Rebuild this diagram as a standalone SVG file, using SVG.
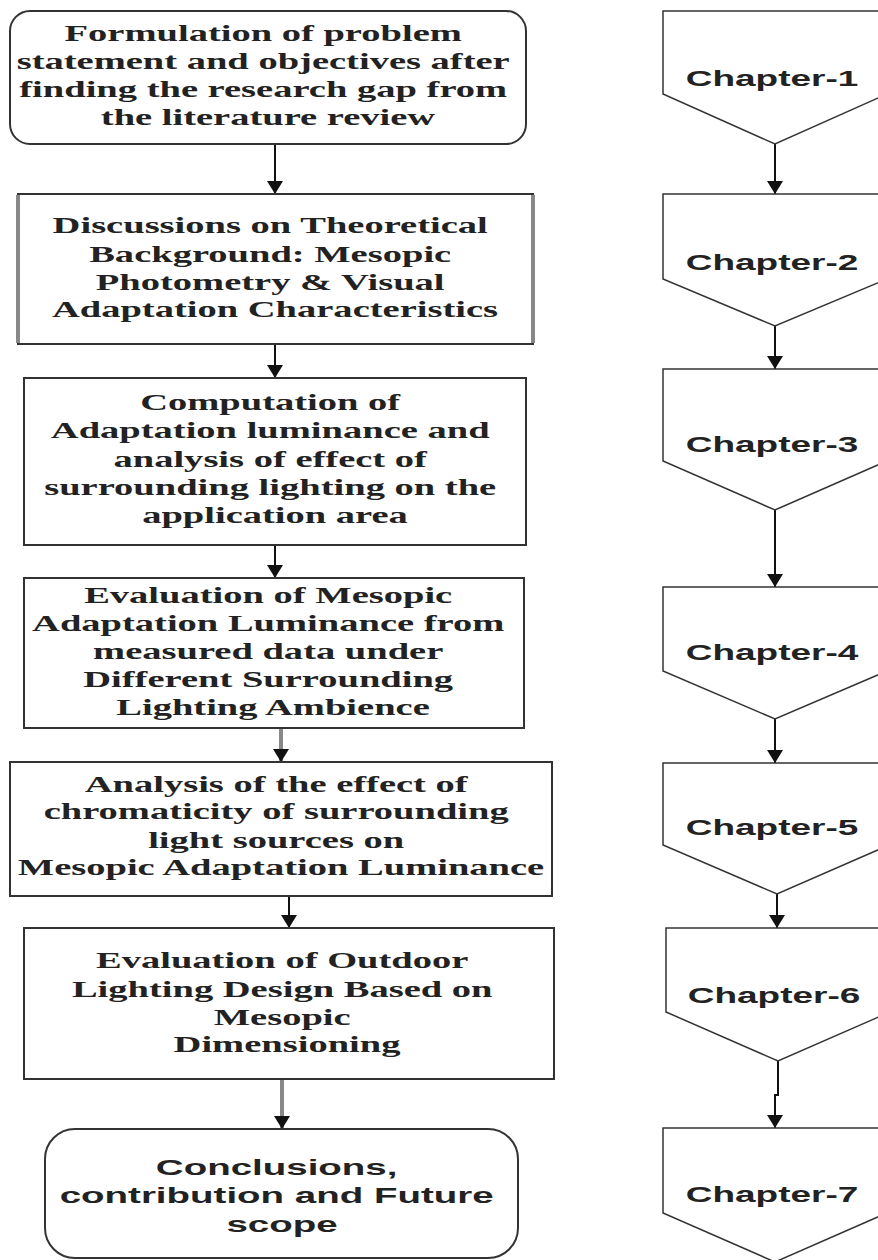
<svg xmlns="http://www.w3.org/2000/svg" width="878" height="1260" viewBox="0 0 878 1260">
  <defs>
    <marker id="arrow" viewBox="0 0 13 16" refX="13" refY="8" markerWidth="13" markerHeight="16" markerUnits="userSpaceOnUse" orient="auto">
      <path d="M0,0 L13,8 L0,16 Z" fill="#111"/>
    </marker>
    <style>
      .box { fill: #fff; stroke: #333; stroke-width: 2; }
      .side { stroke: #888; stroke-width: 4; fill: none; }
      .serif { font-family: "Liberation Serif", "Times New Roman", serif; font-weight: bold; font-size: 23px; fill: #222; text-anchor: middle; }
      .sans { font-family: "Liberation Sans", Arial, sans-serif; font-weight: bold; font-size: 22px; fill: #222; text-anchor: middle; }
      .chap { font-family: "Liberation Sans", Arial, sans-serif; font-weight: bold; font-size: 22px; fill: #222; text-anchor: middle; }
      .link { stroke: #111; stroke-width: 2; fill: none; }
      .link-grey { stroke: #888; stroke-width: 4; fill: none; }
      .page { fill: #fff; stroke: #333; stroke-width: 1.5; }
    </style>
  </defs>

  <rect width="878" height="1260" fill="#fff"/>

  <!-- Connectors -->
  <g id="connectors">
    <line class="link" x1="275" y1="144" x2="275" y2="194" marker-end="url(#arrow)"/>
    <line class="link" x1="275" y1="344" x2="275" y2="378" marker-end="url(#arrow)"/>
    <line class="link" x1="275" y1="545" x2="275" y2="578" marker-end="url(#arrow)"/>
    <line class="link-grey" x1="281" y1="728" x2="281" y2="762" marker-end="url(#arrow)"/>
    <line class="link" x1="289" y1="896" x2="289" y2="928" marker-end="url(#arrow)"/>
    <line class="link-grey" x1="282" y1="1079" x2="282" y2="1129" marker-end="url(#arrow)"/>

    <line class="link" x1="775" y1="144" x2="775" y2="194" marker-end="url(#arrow)"/>
    <line class="link" x1="775" y1="326" x2="775" y2="369" marker-end="url(#arrow)"/>
    <line class="link" x1="775" y1="510" x2="775" y2="587" marker-end="url(#arrow)"/>
    <line class="link" x1="775" y1="719" x2="775" y2="763" marker-end="url(#arrow)"/>
    <line class="link" x1="777" y1="894" x2="777" y2="928" marker-end="url(#arrow)"/>
    <polyline class="link" points="778,1061 778,1095 775,1095 775,1128" marker-end="url(#arrow)"/>
  </g>

  <!-- Left column: process steps -->
  <g id="step1">
    <rect class="box" x="10" y="11" width="516" height="133" rx="20" ry="20"/>
    <text class="serif" transform="translate(268,0) scale(1.675,1)">
      <tspan x="0" y="41">Formulation of problem</tspan>
      <tspan x="0" y="69">statement and objectives after</tspan>
      <tspan x="0" y="97">finding the research gap from</tspan>
      <tspan x="0" y="125">the literature review</tspan>
    </text>
  </g>

  <g id="step2">
    <rect class="box" x="18" y="194" width="515" height="150"/>
    <line class="side" x1="18" y1="195" x2="18" y2="343"/>
    <line class="side" x1="533" y1="195" x2="533" y2="343"/>
    <text class="serif" transform="translate(275,0) scale(1.675,1)">
      <tspan x="0" y="233">Discussions on Theoretical</tspan>
      <tspan x="0" y="262">Background: Mesopic</tspan>
      <tspan x="0" y="290">Photometry &amp; Visual</tspan>
      <tspan x="0" y="317">Adaptation Characteristics</tspan>
    </text>
  </g>

  <g id="step3">
    <rect class="box" x="24" y="378" width="502" height="167"/>
    <text class="serif" transform="translate(275,0) scale(1.675,1)">
      <tspan x="0" y="410">Computation of</tspan>
      <tspan x="0" y="438">Adaptation luminance and</tspan>
      <tspan x="0" y="467">analysis of effect of</tspan>
      <tspan x="0" y="495">surrounding lighting on the</tspan>
      <tspan x="0" y="523">application area</tspan>
    </text>
  </g>

  <g id="step4">
    <rect class="box" x="24" y="578" width="500" height="150"/>
    <text class="serif" transform="translate(273,0) scale(1.675,1)">
      <tspan x="0" y="603">Evaluation of Mesopic</tspan>
      <tspan x="0" y="631">Adaptation Luminance from</tspan>
      <tspan x="0" y="659">measured data under</tspan>
      <tspan x="0" y="687">Different Surrounding</tspan>
      <tspan x="0" y="715">Lighting Ambience</tspan>
    </text>
  </g>

  <g id="step5">
    <rect class="box" x="10" y="762" width="542" height="134"/>
    <text class="serif" transform="translate(281,0) scale(1.675,1)">
      <tspan x="0" y="792">Analysis of the effect of</tspan>
      <tspan x="0" y="819">chromaticity of surrounding</tspan>
      <tspan x="0" y="848">light sources on</tspan>
      <tspan x="0" y="875">Mesopic Adaptation Luminance</tspan>
    </text>
  </g>

  <g id="step6">
    <rect class="box" x="24" y="928" width="530" height="151"/>
    <text class="serif" transform="translate(287,0) scale(1.675,1)">
      <tspan x="0" y="968">Evaluation of Outdoor</tspan>
      <tspan x="0" y="997">Lighting Design Based on</tspan>
      <tspan x="0" y="1025">Mesopic</tspan>
      <tspan x="0" y="1052">Dimensioning</tspan>
    </text>
  </g>

  <g id="step7">
    <rect class="box" x="45" y="1129" width="473" height="129" rx="30" ry="30"/>
    <text class="sans" transform="translate(282,0) scale(1.75,1)">
      <tspan x="0" y="1175">Conclusions,</tspan>
      <tspan x="0" y="1203">contribution and Future</tspan>
      <tspan x="0" y="1232">scope</tspan>
    </text>
  </g>

  <!-- Right column: chapter markers (off-page connector shapes) -->
  <g id="chapter1">
    <polygon class="page" points="663,11 887,11 887,94 775,144 663,94"/>
    <text class="chap" transform="translate(772,86) scale(1.68,1)">Chapter-1</text>
  </g>
  <g id="chapter2">
    <polygon class="page" points="663,194 887,194 887,279 775,326 663,279"/>
    <text class="chap" transform="translate(772,270) scale(1.68,1)">Chapter-2</text>
  </g>
  <g id="chapter3">
    <polygon class="page" points="663,369 887,369 887,461 775,510 663,461"/>
    <text class="chap" transform="translate(772,452) scale(1.68,1)">Chapter-3</text>
  </g>
  <g id="chapter4">
    <polygon class="page" points="663,587 887,587 887,671 775,719 663,671"/>
    <text class="chap" transform="translate(772,660) scale(1.68,1)">Chapter-4</text>
  </g>
  <g id="chapter5">
    <polygon class="page" points="663,763 889,763 889,845 777,894 663,845"/>
    <text class="chap" transform="translate(772,835) scale(1.68,1)">Chapter-5</text>
  </g>
  <g id="chapter6">
    <polygon class="page" points="666,928 890,928 890,1012 778,1061 666,1012"/>
    <text class="chap" transform="translate(774,1003) scale(1.68,1)">Chapter-6</text>
  </g>
  <g id="chapter7">
    <polygon class="page" points="663,1128 887,1128 887,1213 775,1262 663,1213"/>
    <text class="chap" transform="translate(772,1202) scale(1.68,1)">Chapter-7</text>
  </g>
</svg>
